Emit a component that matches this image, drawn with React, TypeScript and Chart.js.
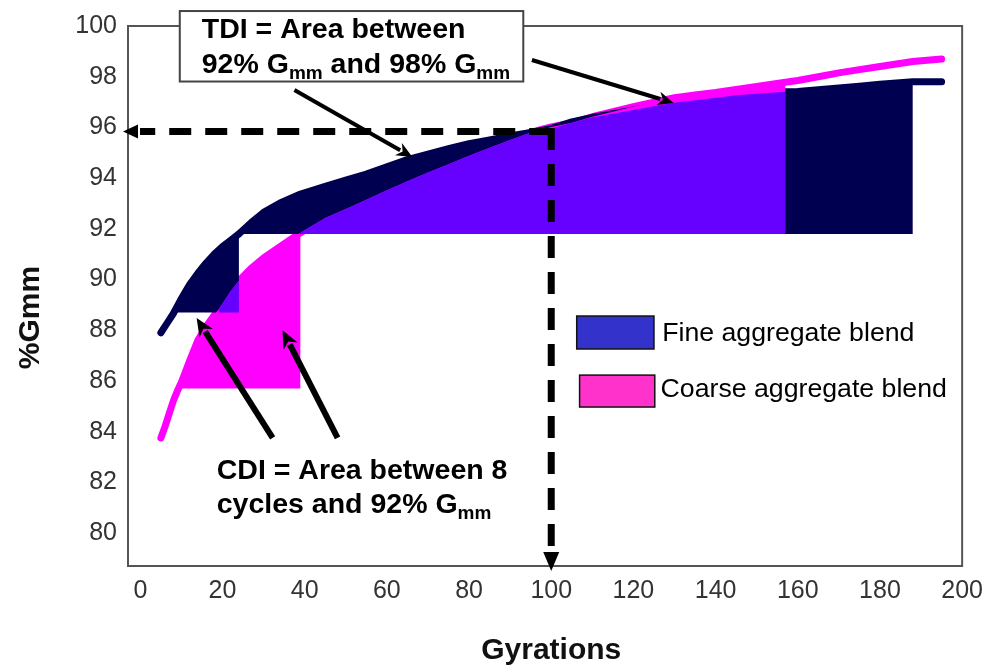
import React, { useEffect, useRef } from "react";
import { Chart, registerables } from "chart.js";
Chart.register(...registerables);

// ---- data ----
const gyrations = [5, 6, 7, 8, 9, 10, 12, 14, 16, 18, 19, 20, 22, 24, 27, 30, 34, 39, 45, 50, 55, 60, 65, 70, 75, 80, 85, 90, 95, 100, 105, 110, 115, 120, 125, 130, 135, 140, 145, 150, 157, 160, 165, 170, 175, 180, 188, 195];
const fineBlend = [87.9, 88.15, 88.4, 88.65, 88.95, 89.25, 89.8, 90.25, 90.65, 91.0, 91.15, 91.3, 91.55, 91.8, 92.25, 92.65, 93.02, 93.37, 93.68, 93.92, 94.16, 94.45, 94.73, 94.95, 95.16, 95.36, 95.51, 95.66, 95.8, 95.95, 96.22, 96.39, 96.54, 96.69, 96.83, 96.97, 97.07, 97.17, 97.27, 97.33, 97.41, 97.42, 97.49, 97.55, 97.62, 97.7, 97.8, 97.8];
const coarseBlend = [83.75, 84.2, 84.7, 85.2, 85.6, 85.95, 86.8, 87.6, 88.15, 88.6, 88.82, 89.05, 89.55, 89.95, 90.45, 90.85, 91.3, 91.85, 92.43, 92.78, 93.15, 93.52, 93.88, 94.22, 94.55, 94.88, 95.2, 95.5, 95.8, 96.02, 96.18, 96.42, 96.62, 96.82, 97.0, 97.17, 97.28, 97.38, 97.5, 97.62, 97.78, 97.85, 98.0, 98.15, 98.28, 98.4, 98.6, 98.7];

const xTicks = [0, 20, 40, 60, 80, 100, 120, 140, 160, 180, 200];
const yTicks = [80, 82, 84, 86, 88, 90, 92, 94, 96, 98, 100];

const tdiBase = 91.8;          // 92 % Gmm level
const fineCdiBase = 88.7;      // fine blend at 8 cycles
const coarseCdiBase = 85.7;    // coarse blend at 8 cycles
const fineCdiRange = [9, 24];
const coarseCdiRange = [10, 39];
const fineTdiRange = [24, 188];
const coarseTdiRange = [39, 157];
const guidePoint = [100, 95.84];

const legendLabels = ["Fine aggregate blend", "Coarse aggregate blend"];

const NAVY = "#000050";
const VIOLET = "#6600FF";
const MAGENTA = "#FF00FF";
const FONT = "'Liberation Sans', Arial, sans-serif";

const pts = (vals: number[], lo: number, hi: number) =>
  gyrations.map((g, i) => ({ x: g, y: vals[i] })).filter((p) => p.x >= lo && p.x <= hi);

const minVals = gyrations.map((_, i) => Math.min(fineBlend[i], coarseBlend[i]));

function arrow(ctx: CanvasRenderingContext2D, x1: number, y1: number, x2: number, y2: number, w: number, L: number, H: number) {
  const dx = x2 - x1, dy = y2 - y1;
  const len = Math.hypot(dx, dy);
  const ux = dx / len, uy = dy / len;
  const bx = x2 - ux * L, by = y2 - uy * L;
  ctx.lineWidth = w;
  ctx.lineCap = "butt";
  ctx.beginPath();
  ctx.moveTo(x1, y1);
  ctx.lineTo(bx + ux * 2, by + uy * 2);
  ctx.stroke();
  ctx.beginPath();
  ctx.moveTo(x2, y2);
  ctx.lineTo(bx - uy * H, by + ux * H);
  ctx.lineTo(bx + ux * L * 0.3, by + uy * L * 0.3);
  ctx.lineTo(bx + uy * H, by - ux * H);
  ctx.closePath();
  ctx.fill();
}

function richText(ctx: CanvasRenderingContext2D, parts: [string, boolean][], x: number, y: number, font: string, subFont: string) {
  let cx = x;
  for (const [t, sub] of parts) {
    ctx.font = sub ? subFont : font;
    ctx.fillText(t, cx, sub ? y + 6 : y);
    cx += ctx.measureText(t).width;
  }
}

const annotationPlugin = {
  id: "annotations",
  afterDraw(chart: any) {
    const { ctx, chartArea: a, scales } = chart;
    const X = (v: number) => scales.x.getPixelForValue(v);
    const Y = (v: number) => scales.y.getPixelForValue(v);
    ctx.save();
    // plot frame
    ctx.strokeStyle = "#555";
    ctx.lineWidth = 2;
    ctx.strokeRect(a.left, a.top, a.right - a.left, a.bottom - a.top);

    // dashed guide lines with arrows
    const gx = X(guidePoint[0]), gy = Y(guidePoint[1]);
    ctx.strokeStyle = "#000";
    ctx.fillStyle = "#000";
    ctx.lineWidth = 7;
    ctx.setLineDash([22, 14]);
    ctx.beginPath();
    ctx.moveTo(gx, gy);
    ctx.lineTo(a.left + 12, gy);
    ctx.stroke();
    ctx.beginPath();
    ctx.moveTo(gx, gy - 3.5);
    ctx.lineTo(gx, a.bottom - 14);
    ctx.stroke();
    ctx.setLineDash([]);
    ctx.beginPath();
    ctx.moveTo(a.left - 5, gy);
    ctx.lineTo(a.left + 10, gy - 7);
    ctx.lineTo(a.left + 10, gy + 7);
    ctx.closePath();
    ctx.fill();
    ctx.beginPath();
    ctx.moveTo(gx, a.bottom + 5);
    ctx.lineTo(gx - 8, a.bottom - 14);
    ctx.lineTo(gx + 8, a.bottom - 14);
    ctx.closePath();
    ctx.fill();

    // pointer arrows
    arrow(ctx, X(37.5), Y(97.48), X(66.2), Y(94.83), 4, 16, 7);
    arrow(ctx, X(95.3), Y(98.66), X(129.8), Y(96.96), 4, 16, 7);
    arrow(ctx, X(32.2), Y(83.75), X(13.7), Y(88.48), 6, 18, 8);
    arrow(ctx, X(48), Y(83.75), X(34.6), Y(88.0), 6, 18, 8);

    // TDI box
    const bx1 = X(9.6), by1 = Y(100.59), bx2 = X(93.2), by2 = Y(97.81);
    ctx.fillStyle = "#fff";
    ctx.fillRect(bx1, by1, bx2 - bx1, by2 - by1);
    ctx.strokeStyle = "#444";
    ctx.lineWidth = 2;
    ctx.strokeRect(bx1, by1, bx2 - bx1, by2 - by1);
    ctx.fillStyle = "#000";
    ctx.textAlign = "left";
    ctx.textBaseline = "alphabetic";
    const bold = `bold 28.5px ${FONT}`;
    const subBold = `bold 19px ${FONT}`;
    richText(ctx, [["TDI = Area between", false]], bx1 + 22, by1 + 27, bold, subBold);
    richText(ctx, [["92% G", false], ["mm", true], [" and 98% G", false], ["mm", true]], bx1 + 22, by1 + 62, bold, subBold);

    // CDI text
    const cx = X(18.6);
    richText(ctx, [["CDI = Area between 8", false]], cx, Y(82.13), bold, subBold);
    richText(ctx, [["cycles and 92% G", false], ["mm", true]], cx, Y(80.79), bold, subBold);

    // legend
    const legendColors = ["#3333CC", "#FF33CC"];
    const boxes = [
      [X(106.2), Y(88.56), X(125.0), Y(87.26), X(127.0), Y(87.56)],
      [X(106.9), Y(86.23), X(125.2), Y(84.97), X(126.6), Y(85.35)],
    ];
    ctx.font = `26.7px ${FONT}`;
    legendLabels.forEach((lab, i) => {
      const [x1, y1, x2, y2, tx, ty] = boxes[i];
      ctx.fillStyle = legendColors[i];
      ctx.fillRect(x1, y1, x2 - x1, y2 - y1);
      ctx.strokeStyle = "#111";
      ctx.lineWidth = 1.5;
      ctx.strokeRect(x1, y1, x2 - x1, y2 - y1);
      ctx.fillStyle = "#000";
      ctx.fillText(lab, tx, ty);
    });

    // axis titles
    ctx.fillStyle = "#111";
    ctx.font = `bold 30px ${FONT}`;
    ctx.textAlign = "center";
    ctx.textBaseline = "middle";
    ctx.fillText("Gyrations", X(100), 651);
    ctx.translate(31, Y(88.5));
    ctx.rotate(-Math.PI / 2);
    ctx.fillText("%Gmm", 0, 0);
    ctx.restore();
  },
};

export default function App() {
  const ref = useRef<HTMLCanvasElement>(null);
  useEffect(() => {
    if (!ref.current) return;
    const fillSet = (data: any[], base: number, color: string, order: number) => ({
      data, fill: { value: base }, backgroundColor: color, borderWidth: 0, pointRadius: 0, order, tension: 0,
    });
    const chart = new Chart(ref.current, {
      type: "line",
      data: {
        datasets: [
          { label: legendLabels[1], data: pts(coarseBlend, 0, 200), borderColor: MAGENTA, borderWidth: 7, pointRadius: 0, fill: false, order: 20, borderCapStyle: "round", borderJoinStyle: "round" } as any,
          { label: legendLabels[0], data: pts(fineBlend, 0, 200), borderColor: NAVY, borderWidth: 7, pointRadius: 0, fill: false, order: 19, borderCapStyle: "round", borderJoinStyle: "round" } as any,
          fillSet(pts(fineBlend, fineCdiRange[0], fineCdiRange[1]), fineCdiBase, NAVY, 18),
          fillSet(pts(fineBlend, fineTdiRange[0], fineTdiRange[1]), tdiBase, NAVY, 17),
          fillSet(pts(coarseBlend, coarseCdiRange[0], coarseCdiRange[1]), coarseCdiBase, MAGENTA, 16),
          fillSet(pts(coarseBlend, coarseTdiRange[0], coarseTdiRange[1]), tdiBase, MAGENTA, 15),
          fillSet(pts(minVals, coarseCdiRange[0], fineCdiRange[1]).filter((p) => p.y >= fineCdiBase), fineCdiBase, VIOLET, 14),
          fillSet(pts(minVals, coarseTdiRange[0], coarseTdiRange[1]), tdiBase, VIOLET, 13),
        ],
      },
      options: {
        responsive: false,
        animation: false,
        devicePixelRatio: 1,
        layout: { padding: { top: 26, right: 29, left: 0, bottom: 0 } },
        plugins: { legend: { display: false }, tooltip: { enabled: false } },
        elements: { line: { tension: 0 } },
        scales: {
          x: {
            type: "linear",
            min: -3,
            max: 200,
            grid: { display: false, drawTicks: false },
            border: { display: false },
            afterBuildTicks: (s: any) => { s.ticks = xTicks.map((v) => ({ value: v })); },
            afterFit: (s: any) => { s.height = 99; },
            ticks: { padding: 10, color: "#333", font: { size: 25, family: FONT }, maxRotation: 0, autoSkip: false },
          },
          y: {
            type: "linear",
            min: 78.7,
            max: 100,
            grid: { display: false, drawTicks: false },
            border: { display: false },
            afterBuildTicks: (s: any) => { s.ticks = yTicks.map((v) => ({ value: v })); },
            afterFit: (s: any) => { s.width = 128; },
            ticks: { padding: 11, color: "#333", font: { size: 25, family: FONT }, autoSkip: false },
          },
        },
      },
      plugins: [annotationPlugin],
    });
    return () => chart.destroy();
  }, []);
  return (
    <div style={{ position: "absolute", left: 0, top: 0, width: 993, height: 665, background: "#fff" }}>
      <canvas ref={ref} width={993} height={665} style={{ width: 993, height: 665 }} />
    </div>
  );
}
